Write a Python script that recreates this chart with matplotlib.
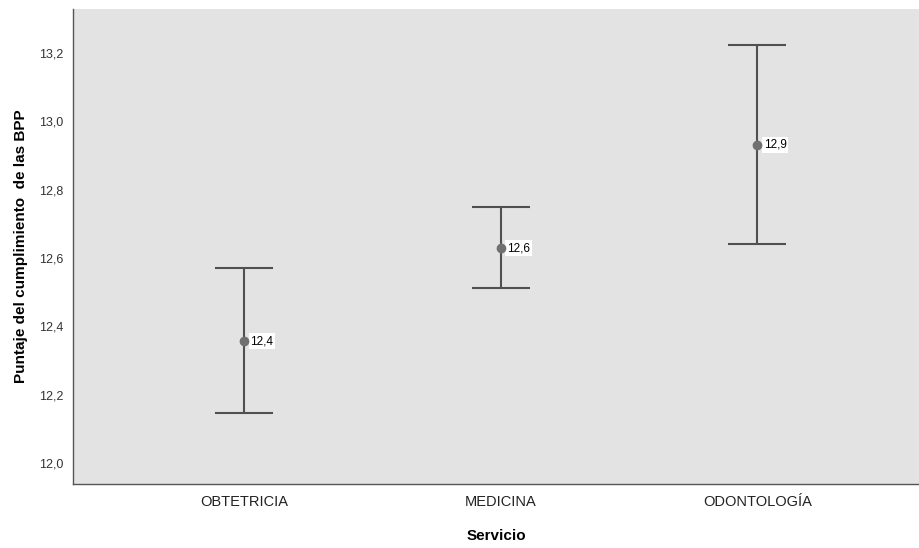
import matplotlib
matplotlib.use("Agg")
import matplotlib.pyplot as plt
from matplotlib.ticker import FuncFormatter, MultipleLocator

plt.rcParams['font.family'] = ['Liberation Sans', 'DejaVu Sans']

# Puntaje medio por servicio con intervalo de confianza
servicios = ["OBTETRICIA", "MEDICINA", "ODONTOLOGÍA"]
medias = [12.357, 12.629, 12.931]
ic_inf = [12.146, 12.512, 12.641]
ic_sup = [12.571, 12.749, 13.223]
etiquetas = ["12,4", "12,6", "12,9"]

fig = plt.figure(figsize=(9.19, 5.48), dpi=100)
ax = fig.add_axes([0.0794, 0.1168, 0.9206, 0.8668])
ax.set_facecolor("#e3e3e3")

x = list(range(len(servicios)))
err_low = [m - lo for m, lo in zip(medias, ic_inf)]
err_high = [hi - m for m, hi in zip(medias, ic_sup)]
ax.errorbar(x, medias, yerr=[err_low, err_high], fmt="none",
            ecolor="#505050", elinewidth=1.5, capsize=21, capthick=1.5,
            zorder=3)
# puntos de la media encima de las etiquetas
ax.plot(x, medias, "o", color="#707070", markersize=6, zorder=5)

for xi, m, t in zip(x, medias, etiquetas):
    ax.annotate(t, (xi, m), xytext=(4.5, 0), textcoords="offset points",
                ha="left", va="center", fontsize=8.5, color="black",
                bbox=dict(boxstyle="square,pad=0.15", fc="white", ec="none"),
                zorder=4)

ax.set_xlim(-0.667, 2.63)
ax.set_ylim(11.939, 13.329)
ax.yaxis.set_major_locator(MultipleLocator(0.2))
ax.yaxis.set_major_formatter(FuncFormatter(lambda v, p: f"{v:.1f}".replace(".", ",")))
ax.set_xticks(x)
ax.set_xticklabels(servicios, fontsize=10.5, color="#222222")
ax.tick_params(axis="y", length=0, pad=7, labelsize=9, labelcolor="#333333")
ax.tick_params(axis="x", length=0, pad=8)

for s in ["top", "right"]:
    ax.spines[s].set_visible(False)
for s in ["left", "bottom"]:
    ax.spines[s].set_color("#555555")
    ax.spines[s].set_linewidth(1.0)

ax.set_xlabel("Servicio", fontsize=11, fontweight="bold", labelpad=14)
ax.set_ylabel("Puntaje del cumplimiento  de las BPP", fontsize=11,
              fontweight="bold", labelpad=8)

fig.savefig("out.png", dpi=100)
